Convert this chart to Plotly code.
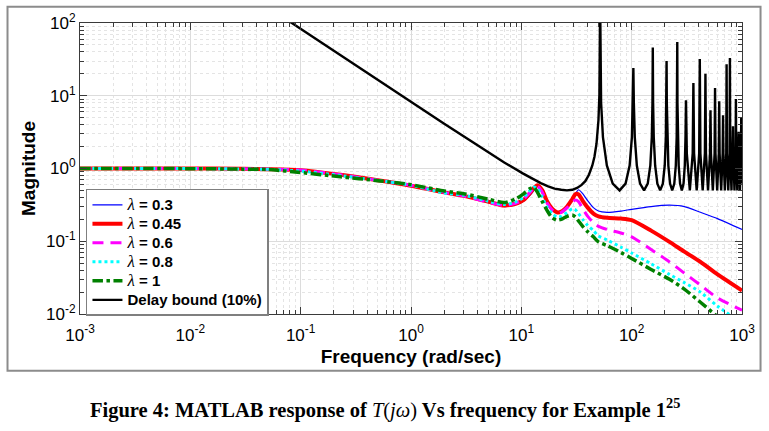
import plotly.graph_objects as go

# frequency grid (rad/sec) for the closed-loop responses
freq = [0.001, 0.01, 0.03, 0.05, 0.1, 0.23, 0.5, 1, 2, 3, 5, 7, 9, 10.5, 12, 13, 14, 15.5,
        17, 19, 21, 23, 26, 29, 31, 33, 36, 40, 45, 50, 60, 80, 100, 150, 220, 300, 420, 600, 1000]

# |T(jw)| for each lambda
mag_l030 = [1.0, 1.0, 0.99, 0.98, 0.95, 0.83, 0.70, 0.59, 0.47, 0.42, 0.34, 0.30, 0.32, 0.355, 0.43,
            0.50, 0.57, 0.52, 0.37, 0.28, 0.25, 0.255, 0.29, 0.37, 0.45, 0.51, 0.45, 0.36, 0.29, 0.26,
            0.25, 0.26, 0.275, 0.30, 0.313, 0.30, 0.25, 0.205, 0.145]
mag_l045 = [1.0, 1.0, 0.99, 0.98, 0.95, 0.82, 0.69, 0.58, 0.47, 0.42, 0.35, 0.31, 0.33, 0.37, 0.46,
            0.54, 0.59, 0.50, 0.36, 0.28, 0.25, 0.255, 0.30, 0.38, 0.445, 0.44, 0.36, 0.29, 0.24, 0.22,
            0.21, 0.205, 0.195, 0.14, 0.098, 0.072, 0.052, 0.035, 0.021]
mag_l060 = [1.0, 1.0, 0.99, 0.98, 0.95, 0.82, 0.69, 0.585, 0.47, 0.42, 0.345, 0.31, 0.335, 0.38, 0.47,
            0.54, 0.57, 0.47, 0.34, 0.27, 0.245, 0.25, 0.29, 0.34, 0.37, 0.35, 0.28, 0.22, 0.18, 0.16,
            0.145, 0.13, 0.115, 0.077, 0.052, 0.0365, 0.025, 0.0166, 0.0113]
mag_l080 = [1.0, 1.0, 0.985, 0.975, 0.92, 0.80, 0.685, 0.59, 0.46, 0.43, 0.355, 0.32, 0.35, 0.40, 0.50,
            0.555, 0.53, 0.40, 0.30, 0.24, 0.216, 0.22, 0.25, 0.28, 0.27, 0.24, 0.20, 0.165, 0.14, 0.118,
            0.104, 0.083, 0.069, 0.049, 0.035, 0.027, 0.020, 0.0128, 0.0075]
mag_l100 = [1.0, 0.995, 0.98, 0.97, 0.88, 0.77, 0.68, 0.60, 0.49, 0.45, 0.38, 0.34, 0.385, 0.45, 0.53,
            0.55, 0.47, 0.35, 0.27, 0.21, 0.195, 0.20, 0.22, 0.23, 0.215, 0.19, 0.16, 0.135, 0.115, 0.098,
            0.087, 0.07, 0.058, 0.041, 0.030, 0.022, 0.0145, 0.0092, 0.005]

# delay bound (10%)
bound_freq = [0.08, 0.2, 0.5, 1, 2, 3.44, 5, 7, 10.4, 12, 15, 17.5, 20, 23, 25.9, 29, 32, 35, 38, 41,
              44, 46, 48, 50, 51, 51.8,
              52.84, 54.91, 59.57, 67.34, 77.7, 88.06, 95.83, 100.49, 102.56, 103.6,
              104.64, 106.71, 111.37, 119.14, 129.5, 139.86, 147.63, 152.29, 154.36, 155.4,
              156.44, 158.51, 163.17, 170.94, 181.3, 191.66, 199.43, 204.09, 206.16, 207.2,
              208.24, 210.31, 214.97, 222.74, 233.1, 243.46, 251.23, 255.89, 257.96, 259.0,
              260.04, 262.11, 266.77, 274.54, 284.9, 295.26, 303.03, 307.69, 309.76, 310.8,
              316.0, 336.7, 357.4, 362.6,
              367.8, 388.5, 409.2, 414.4,
              419.6, 440.3, 461.0, 466.2,
              471.4, 492.1, 512.8, 518.0,
              523.2, 543.9, 564.6, 569.8,
              575.0, 595.7, 616.4, 621.6,
              626.8, 647.5, 668.2, 673.4,
              678.6, 699.3, 720.0, 725.2,
              730.4, 751.1, 771.8, 777.0,
              782.2, 802.9, 823.6, 828.8,
              834.0, 854.7, 875.4, 880.6,
              885.8, 906.5, 927.2, 932.4,
              937.6, 958.3, 979.0, 984.2,
              989.4, 1000]
bound_mag = [104, 41.2, 16.5, 8.25, 4.13, 2.42, 1.67, 1.21, 0.85, 0.75, 0.63, 0.57, 0.53, 0.51, 0.5,
             0.51, 0.54, 0.59, 0.67, 0.82, 1.1, 1.45, 2.19, 4.6, 10.3, 200,
             8.0, 2.7, 1.1, 0.62, 0.5, 0.62, 1.1, 2.7, 8.0, 24,
             8.0, 2.7, 1.1, 0.62, 0.5, 0.62, 1.1, 2.7, 8.0, 46,
             8.0, 2.7, 1.1, 0.62, 0.5, 0.62, 1.1, 2.7, 8.0, 30,
             8.0, 2.7, 1.1, 0.62, 0.5, 0.62, 1.1, 2.7, 8.0, 55,
             8.0, 2.7, 1.1, 0.62, 0.5, 0.62, 1.1, 2.7, 8.0, 8.7,
             1.62, 0.5, 1.62, 15,
             1.62, 0.5, 1.62, 32,
             1.62, 0.5, 1.62, 20,
             1.62, 0.5, 1.62, 6.3,
             1.62, 0.5, 1.62, 12.8,
             1.62, 0.5, 1.62, 8.4,
             1.62, 0.5, 1.62, 5.4,
             1.62, 0.5, 1.62, 27,
             1.62, 0.5, 1.62, 33,
             1.62, 0.5, 1.62, 3.8,
             1.62, 0.5, 1.62, 9,
             1.62, 0.5, 1.62, 3.2,
             1.62, 0.5, 1.62, 5.0,
             1.62, 0.62]

x_ticks = [1e-3, 1e-2, 1e-1, 1e0, 1e1, 1e2, 1e3]
x_tick_text = ["10<sup>-3</sup>", "10<sup>-2</sup>", "10<sup>-1</sup>", "10<sup>0</sup>",
               "10<sup>1</sup>", "10<sup>2</sup>", "10<sup>3</sup>"]
y_ticks = [1e-2, 1e-1, 1e0, 1e1, 1e2]
y_tick_text = ["10<sup>-2</sup>", "10<sup>-1</sup>", "10<sup>0</sup>", "10<sup>1</sup>", "10<sup>2</sup>"]
legend_names = ["0.3", "0.45", "0.6", "0.8", "1"]


def lam_label(val):
    # italic serif lambda like the MATLAB tex interpreter, bigger text than the row spacing
    return ("<span style=\"font-size:15px\"><span style=\"font-family:'Liberation Serif';"
            "font-style:italic;font-weight:normal;font-size:17px\">λ</span> = " + val + "</span>")


fig = go.Figure()
fig.add_trace(go.Scatter(x=freq, y=mag_l030, mode="lines", name=lam_label(legend_names[0]),
                         line=dict(color="#0000ff", width=1.2, shape="spline", smoothing=0.7)))
fig.add_trace(go.Scatter(x=freq, y=mag_l045, mode="lines", name=lam_label(legend_names[1]),
                         line=dict(color="#ff0000", width=4, shape="spline", smoothing=0.7)))
fig.add_trace(go.Scatter(x=freq, y=mag_l060, mode="lines", name=lam_label(legend_names[2]),
                         line=dict(color="#ff00ff", width=3, dash="11px,7px", shape="spline", smoothing=0.7)))
fig.add_trace(go.Scatter(x=freq, y=mag_l080, mode="lines", name=lam_label(legend_names[3]),
                         line=dict(color="#00ffff", width=3, dash="dot", shape="spline", smoothing=0.7)))
fig.add_trace(go.Scatter(x=freq, y=mag_l100, mode="lines", name=lam_label(legend_names[4]),
                         line=dict(color="#008000", width=3.5, dash="dashdot", shape="spline", smoothing=0.7)))
fig.add_trace(go.Scatter(x=bound_freq, y=bound_mag, mode="lines",
                         name="<span style=\"font-size:15px\">Delay bound (10%)</span>",
                         line=dict(color="black", width=2.4)))

axis_common = dict(
    type="log", showline=True, linecolor="#3a3a3a", linewidth=1.2, mirror="allticks",
    ticks="inside", ticklen=7, tickcolor="#3a3a3a", tickmode="array", automargin=False,
    showgrid=True, gridcolor="#dcdcdc", gridwidth=1, zeroline=False,
    tickfont=dict(family="Liberation Sans", size=17, color="black"),
    minor=dict(ticks="inside", ticklen=4, tickcolor="#3a3a3a", dtick="D1",
               showgrid=True, gridcolor="#e4e4e4", griddash="dot", gridwidth=1),
)

fig.update_xaxes(axis_common, range=[-3, 3], tickvals=x_ticks, ticktext=x_tick_text,
                 ticklabelstandoff=5,
                 title=dict(text="Frequency (rad/sec)", standoff=6,
                            font=dict(family="Liberation Sans", size=19, weight="bold", color="black")))
fig.update_yaxes(axis_common, range=[-2, 2], tickvals=y_ticks, ticktext=y_tick_text,
                 title=dict(text="Magnitude", standoff=5,
                            font=dict(family="Liberation Sans", size=19, weight="bold", color="black")))

fig.update_layout(
    width=769, height=431,
    margin=dict(l=80, r=27, t=23, b=117),
    paper_bgcolor="white", plot_bgcolor="white",
    showlegend=True,
    legend=dict(x=0.009, y=0.43, xanchor="left", yanchor="top",
                bgcolor="white", bordercolor="#7f7f7f", borderwidth=1.5,
                font=dict(family="Liberation Sans", size=12, weight="bold", color="black"),
                itemwidth=30, tracegroupgap=0),
    shapes=[dict(type="rect", xref="paper", yref="paper",
                 x0=-0.1095, x1=1.028, y0=-0.1946, y1=1.0556,
                 line=dict(color="#8c8c8c", width=2), layer="below")],
    annotations=[dict(
        xref="paper", yref="paper", x=0.46, y=-0.326, xanchor="center", yanchor="middle",
        showarrow=False,
        text="<b>Figure 4: MATLAB response of </b><i>T</i>(<i>jω</i>)<b> Vs frequency for Example 1<sup>25</sup></b>",
        font=dict(family="Liberation Serif", size=20.5, color="black"))],
)

# page body has a default 8px margin; drop it so the figure sits at the window origin
fig.write_html("out.html", config={"displayModeBar": False},
               post_script="document.body.style.margin='0';")
